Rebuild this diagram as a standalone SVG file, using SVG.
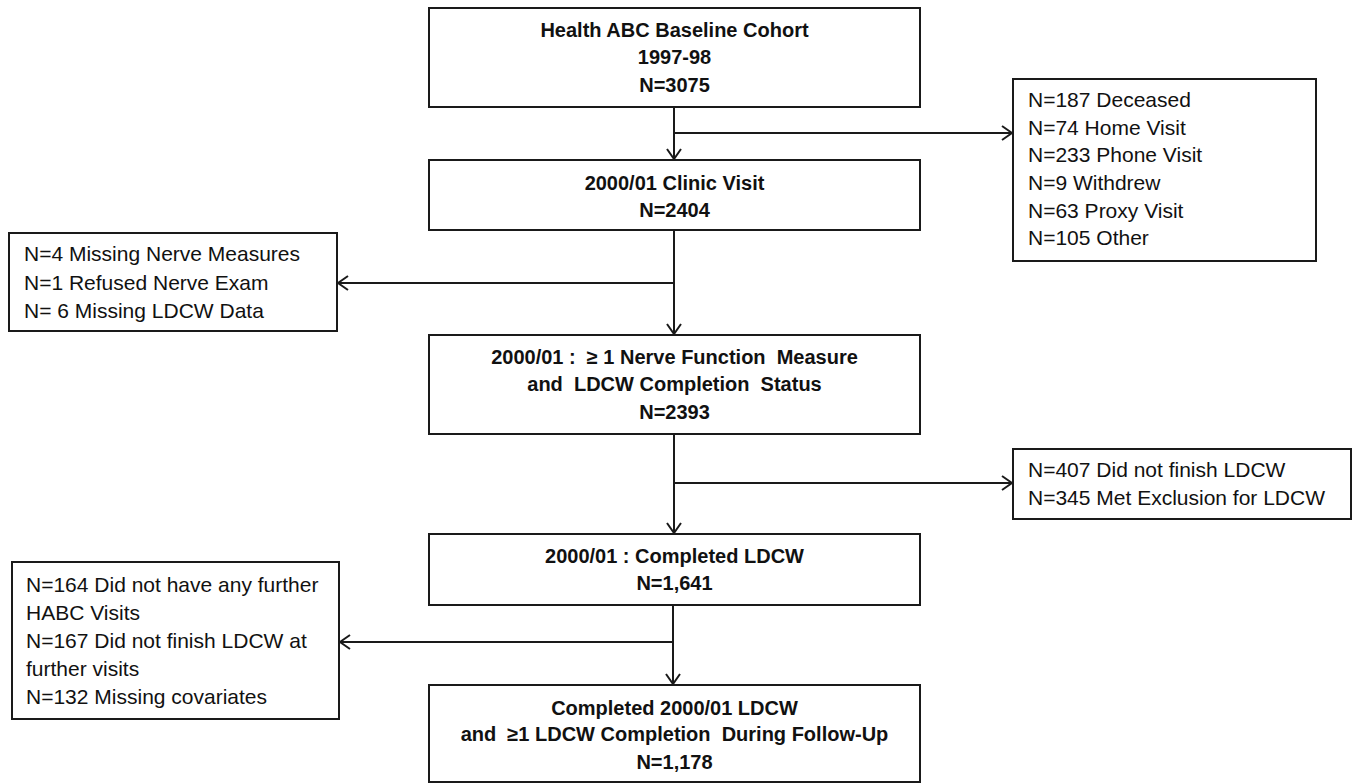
<svg xmlns="http://www.w3.org/2000/svg" width="1356" height="783" viewBox="0 0 1356 783">
<style>
rect{fill:#fff;stroke:#1a1a1a;stroke-width:2}
text{font-family:"Liberation Sans",Arial,sans-serif;fill:#111}
.b{font-weight:bold;font-size:20px;text-anchor:middle}
.r{font-size:21px}
.c line{stroke:#1a1a1a;stroke-width:2}
.c line.a{marker-end:url(#ah)}
</style>
<defs>
<marker id="ah" viewBox="0 0 12 16" refX="11" refY="8" markerWidth="12" markerHeight="16" markerUnits="userSpaceOnUse" orient="auto">
<path d="M1,1 L11,8 L1,15" fill="none" stroke="#1a1a1a" stroke-width="2"/>
</marker>
</defs>
<rect width="1356" height="783" style="stroke:none"/>
<g class="c" id="connectors">
<line class="a" x1="674" y1="107" x2="674" y2="159"/>
<line class="a" x1="674" y1="133" x2="1012" y2="133"/>
<line class="a" x1="674" y1="230" x2="674" y2="334"/>
<line class="a" x1="674" y1="283" x2="338" y2="283"/>
<line class="a" x1="674" y1="434" x2="674" y2="533"/>
<line class="a" x1="674" y1="483" x2="1012" y2="483"/>
<line class="a" x1="673" y1="605" x2="673" y2="684"/>
<line class="a" x1="673" y1="642" x2="340" y2="642"/>
</g>
<g id="baseline">
<rect x="429" y="8" width="491" height="99"/>
<text class="b" x="674.5" y="37">Health ABC Baseline Cohort</text>
<text class="b" x="674.5" y="64">1997-98</text>
<text class="b" x="674.5" y="92">N=3075</text>
</g>
<g id="clinic">
<rect x="429" y="160" width="491" height="70"/>
<text class="b" x="674.5" y="190">2000/01 Clinic Visit</text>
<text class="b" x="674.5" y="217">N=2404</text>
</g>
<g id="nerve">
<rect x="429" y="335" width="491" height="99"/>
<text class="b" x="674.5" y="364" xml:space="preserve">2000/01 :  ≥ 1 Nerve Function  Measure</text>
<text class="b" x="674.5" y="391" xml:space="preserve">and  LDCW Completion  Status</text>
<text class="b" x="674.5" y="419">N=2393</text>
</g>
<g id="completed">
<rect x="429" y="534" width="491" height="71"/>
<text class="b" x="674.5" y="563">2000/01 : Completed LDCW</text>
<text class="b" x="674.5" y="590">N=1,641</text>
</g>
<g id="final">
<rect x="429" y="685" width="491" height="97"/>
<text class="b" x="674.5" y="715">Completed 2000/01 LDCW</text>
<text class="b" x="674.5" y="741" xml:space="preserve">and  ≥1 LDCW Completion  During Follow-Up</text>
<text class="b" x="674.5" y="769">N=1,178</text>
</g>
<g id="excl1">
<rect x="1013" y="79" width="303" height="182"/>
<text class="r" x="1028" y="107">N=187 Deceased</text>
<text class="r" x="1028" y="135">N=74 Home Visit</text>
<text class="r" x="1028" y="162">N=233 Phone Visit</text>
<text class="r" x="1028" y="190">N=9 Withdrew</text>
<text class="r" x="1028" y="218">N=63 Proxy Visit</text>
<text class="r" x="1028" y="245">N=105 Other</text>
</g>
<g id="excl2">
<rect x="9" y="233" width="328" height="98"/>
<text class="r" x="24" y="261">N=4 Missing Nerve Measures</text>
<text class="r" x="24" y="290">N=1 Refused Nerve Exam</text>
<text class="r" x="24" y="318">N= 6 Missing LDCW Data</text>
</g>
<g id="excl3">
<rect x="1013" y="449" width="338" height="70"/>
<text class="r" x="1028" y="477">N=407 Did not finish LDCW</text>
<text class="r" x="1028" y="505">N=345 Met Exclusion for LDCW</text>
</g>
<g id="excl4">
<rect x="12" y="562" width="327" height="157"/>
<text class="r" x="26" y="592">N=164 Did not have any further</text>
<text class="r" x="26" y="620">HABC Visits</text>
<text class="r" x="26" y="648">N=167 Did not finish LDCW at</text>
<text class="r" x="26" y="676">further visits</text>
<text class="r" x="26" y="704">N=132 Missing covariates</text>
</g>
</svg>
